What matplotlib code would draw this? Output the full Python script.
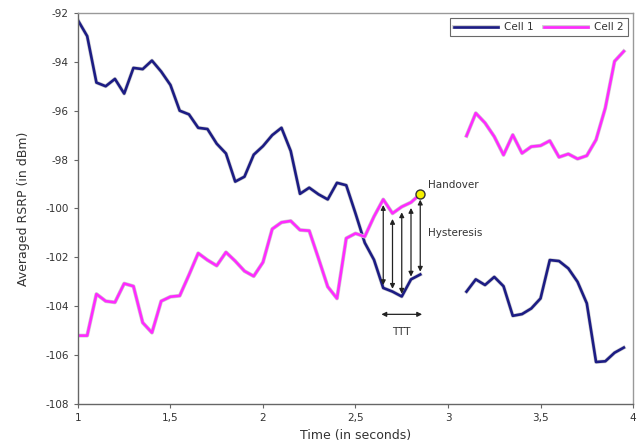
import numpy as np
import matplotlib.pyplot as plt
import matplotlib.patheffects as pe
from matplotlib.ticker import FuncFormatter

plt.rcParams['axes.unicode_minus'] = False

# Time axis (seconds), sampled every 50 ms
t_a = [1.00, 1.05, 1.10, 1.15, 1.20, 1.25, 1.30, 1.35, 1.40, 1.45,
       1.50, 1.55, 1.60, 1.65, 1.70, 1.75, 1.80, 1.85, 1.90, 1.95,
       2.00, 2.05, 2.10, 2.15, 2.20, 2.25, 2.30, 2.35, 2.40, 2.45,
       2.50, 2.55, 2.60, 2.65, 2.70, 2.75, 2.80, 2.85]
t_b = [3.10, 3.15, 3.20, 3.25, 3.30, 3.35, 3.40, 3.45, 3.50, 3.55,
       3.60, 3.65, 3.70, 3.75, 3.80, 3.85, 3.90, 3.95]

# Cell 1 RSRP (dBm)
cell1_a = [-92.3, -92.95, -94.85, -95.0, -94.7, -95.3, -94.25, -94.3, -93.95, -94.4,
           -94.95, -96.0, -96.15, -96.7, -96.75, -97.35, -97.75, -98.9, -98.7, -97.8,
           -97.45, -97.0, -96.7, -97.65, -99.4, -99.15, -99.42, -99.63, -98.95, -99.05,
           -100.2, -101.4, -102.1, -103.25, -103.4, -103.6, -102.9, -102.7]
cell1_b = [-103.4, -102.9, -103.13, -102.8, -103.18, -104.39, -104.32, -104.09, -103.68, -102.11,
           -102.15, -102.45, -103.0, -103.88, -106.28, -106.25, -105.9, -105.69]

# Cell 2 RSRP (dBm)
cell2_a = [-105.2, -105.2, -103.5, -103.79, -103.84, -103.07, -103.18, -104.67, -105.08, -103.79,
           -103.61, -103.57, -102.72, -101.83, -102.11, -102.34, -101.79, -102.15, -102.56, -102.77,
           -102.2, -100.84, -100.57, -100.51, -100.88, -100.91, -102.04, -103.2, -103.68, -101.22,
           -101.02, -101.15, -100.33, -99.63, -100.2, -99.93, -99.75, -99.41]
cell2_b = [-97.03, -96.1, -96.5, -97.06, -97.81, -96.99, -97.74, -97.47, -97.43, -97.23,
           -97.9, -97.77, -97.97, -97.84, -97.19, -95.89, -93.98, -93.57]

# Time-to-trigger window
ttt_times = [2.65, 2.70, 2.75, 2.80, 2.85]
handover_t, handover_v = 2.85, -99.41

navy = '#1c1c84'
pink = '#ff2bff'
halo = [pe.Stroke(linewidth=2.8, foreground='#d0d0d0'), pe.Normal()]

fig = plt.figure(figsize=(6.44, 4.45), dpi=100)
ax = fig.add_axes([0.121, 0.092, 0.862, 0.879])

ax.plot(t_a, cell1_a, color=navy, lw=1.9, label='Cell 1', path_effects=halo)
ax.plot(t_b, cell1_b, color=navy, lw=1.9, path_effects=halo)
ax.plot(t_a, cell2_a, color=pink, lw=1.9, label='Cell 2', path_effects=halo)
ax.plot(t_b, cell2_b, color=pink, lw=1.9, path_effects=halo)

# Hysteresis arrows between the two cells
for tt in ttt_times:
    i = t_a.index(tt)
    ax.annotate('', xy=(tt, cell2_a[i]), xytext=(tt, cell1_a[i]),
                arrowprops=dict(arrowstyle='<|-|>', color='#222222', lw=0.9,
                                shrinkA=2, shrinkB=4, mutation_scale=7))

# TTT arrow
ax.annotate('', xy=(ttt_times[0] - 0.01, -104.33), xytext=(ttt_times[-1] + 0.01, -104.33),
            arrowprops=dict(arrowstyle='<|-|>', color='#222222', lw=0.9,
                            shrinkA=0, shrinkB=0, mutation_scale=7))
ax.text(2.75, -105.05, 'TTT', ha='center', va='center', fontsize=7.5, color='#333333')

ax.plot([handover_t], [handover_v], 'o', ms=6.5, mfc='#f5f000', mec='#333333', mew=1.0, zorder=5)
ax.text(2.89, -99.05, 'Handover', ha='left', va='center', fontsize=7.5, color='#333333')
ax.text(2.89, -101.0, 'Hysteresis', ha='left', va='center', fontsize=7.5, color='#333333')

ax.set_xlim(1, 4)
ax.set_ylim(-108, -92)
ax.set_xticks([1, 1.5, 2, 2.5, 3, 3.5, 4])
ax.set_yticks(np.arange(-108, -91, 2))
ax.xaxis.set_major_formatter(FuncFormatter(lambda v, p: ('%g' % v).replace('.', ',')))
ax.tick_params(labelsize=7.5, colors='#333333', length=3, width=0.8)
ax.tick_params(axis='both', color='#666666')

for s in ['left', 'bottom']:
    ax.spines[s].set_color('#666666')
    ax.spines[s].set_linewidth(1.0)
for s in ['top', 'right']:
    ax.spines[s].set_color('#999999')
    ax.spines[s].set_linewidth(1.0)

ax.set_xlabel('Time (in seconds)', fontsize=9, color='#333333', labelpad=4)
ax.set_ylabel('Averaged RSRP (in dBm)', fontsize=9, color='#333333', labelpad=11)

leg = ax.legend(loc='upper right', ncol=2, fontsize=7.5, frameon=True, fancybox=False,
                borderaxespad=0.5, handlelength=4.2, columnspacing=1.0, handletextpad=0.6)
leg.get_frame().set_edgecolor('#444444')
leg.get_frame().set_linewidth(0.8)
for txt in leg.get_texts():
    txt.set_color('#333333')

fig.savefig('out.png', dpi=100)
